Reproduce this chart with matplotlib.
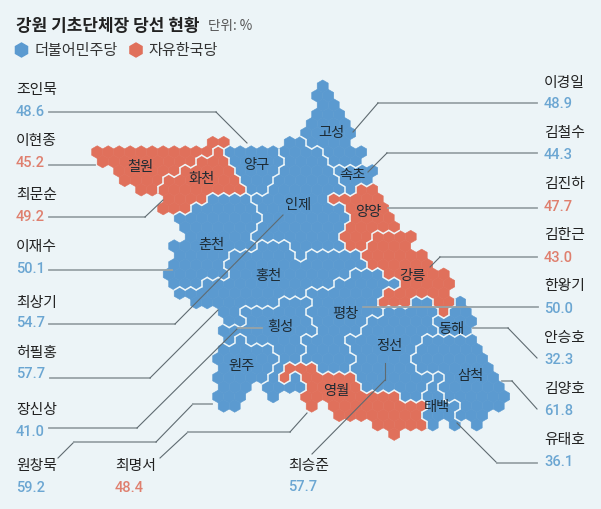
import numpy as np
import matplotlib
matplotlib.use("Agg")
import matplotlib.pyplot as plt
from matplotlib.collections import PolyCollection, LineCollection

plt.rcParams['font.family'] = ['Noto Sans CJK KR', 'DejaVu Sans']

BG = '#ecf4f7'
BLUE = '#5b9ad0'
RED = '#e0705b'
NUM_BLUE = '#6ba6d2'
NUM_RED = '#df7f6e'

#### 1. MAP DATA
# one string per hex row, runs of cells as <region><first col>-<last col>
hex_rows = [
    "G21", "G20-21", "G21-22", "G20-22", "G20-23", "G19-23",
    "C11-12 I18-19 G20-23",
    "C0-10 H11 Y12-16 I17-20 G21-24",
    "C1-9 H10-12 Y13-17 I18-21 G22-24",
    "C2-7 H8-12 Y13-16 I17-21 S22-25",
    "C3-6 H7-13 Y14-16 I17-22 S23-25",
    "C4-5 H6-13 Y14-15 I16-22 S23 A24-25",
    "H7-10 N11-14 I15-21 A22-26",
    "H6-8 N9-14 I15-22 A23-26",
    "N8-15 I16-23 A24-27",
    "N8-14 I15-22 A23-27",
    "N9-14 I15-22 A23-25 K26-29",
    "N7-14 O15-17 I18-22 A23-24 K25-28",
    "N8-12 O13-18 I19 O20-24 K25-30",
    "N7-11 O12-24 K25-30",
    "N7-12 O13-23 P24-26 K27-32",
    "N7-9 O10-21 P22-27 K28-32",
    "O8-19 P20-26 K27-32",
    "O9-16 W17-19 P20-25 K26-28 T29-30 K31-32 D33",
    "O12-13 W14-19 P20-26 T27-31 K32 D33-34",
    "O12-13 W14-19 P20-24 T25-30 D31-34",
    "W12-20 P21-24 T25-31 D32-34",
    "W12 J13 W14-18 P19-22 T23-29 M30-34",
    "J12-16 W17-19 P20-23 T24-29 M30-35",
    "J11-16 W17-18 P19-23 T24-28 M29-35",
    "J12-16 W17 E18-20 P21-23 T24-29 M30-36",
    "J11-15 W16 E17 W18 E19-23 T24-30 B31 M32-36",
    "J12-14 W16-19 E20-24 T25-30 B31 M32-37",
    "J11-13 W16 E19-27 T28-29 B30-31 M32-37",
    "J12-13 E20 E22-30 B31-33 M34-37",
    "E22-29 B30-32 M33-35",
    "E26-30 B31 B33 M35",
    "E27",
]
red_regions = "CHAKE"

region_names = ['철원', '화천', '양구', '고성', '속초', '인제', '양양', '강릉', '춘천',
                '홍천', '횡성', '원주', '평창', '영월', '정선', '동해', '삼척', '태백']
region_x = [140, 202, 256, 331, 352, 298, 368, 412, 211, 268, 280, 242, 345, 336, 389, 451, 470, 437]
region_y = [167, 179, 165, 133, 175, 205, 212, 276, 245, 276, 327, 366, 314, 391, 346, 329, 376, 407]

#### 2. WINNERS
names = ['조인묵', '이현종', '최문순', '이재수', '최상기', '허필홍', '장신상', '원창묵', '최명서', '최승준',
         '이경일', '김철수', '김진하', '김한근', '한왕기', '안승호', '김양호', '유태호']
shares = ['48.6', '45.2', '49.2', '50.1', '54.7', '57.7', '41.0', '59.2', '48.4', '57.7',
          '48.9', '44.3', '47.7', '43.0', '50.0', '32.3', '61.8', '36.1']
is_red = [0, 1, 1, 0, 0, 0, 0, 0, 1, 0, 0, 0, 1, 1, 0, 0, 0, 0]
name_x = [16] * 8 + [115, 288] + [544] * 8
name_y = [90, 141, 195, 247, 303, 353, 410, 466, 466, 466, 83, 133, 184, 235, 286, 338, 389, 440]
share_y = [112, 163, 217, 269, 323, 374, 432, 488, 488, 487, 104, 155, 207, 258, 309, 360, 411, 462]

leaders = [
    [(49, 112), (216, 112), (247, 143)],
    [(49, 165), (95, 165)],
    [(49, 217), (145, 217), (163, 200)],
    [(49, 270), (172, 270)],
    [(49, 324), (175, 324), (283, 215)],
    [(50, 378), (150, 378), (218, 310)],
    [(49, 428), (137, 428), (238, 328), (262, 328)],
    [(58, 458), (74, 442), (156, 442), (193, 404), (212, 404)],
    [(160, 458), (188, 432), (290, 432), (307, 413)],
    [(312, 454), (385, 380), (385, 363)],
    [(537, 103), (378, 103), (353, 132)],
    [(537, 153), (387, 153), (368, 172)],
    [(537, 208), (388, 208)],
    [(537, 257), (440, 257), (430, 267)],
    [(538, 307), (363, 307)],
    [(473, 328), (508, 328), (537, 358)],
    [(502, 381), (512, 381), (537, 409)],
    [(457, 423), (497, 463), (537, 463)],
]

#### 3. BUILD THE HEX GRID
DX = 11.0
DY = 9.4
RADIUS = DX / np.sqrt(3)
X0 = 91.7
Y0 = 86.3

def cell_center(row, col):
    return X0 + DX * col + DX / 2 * (row % 2), Y0 + DY * row

def hex_points(x, y, radius=RADIUS):
    angles = np.radians(np.arange(6) * 60 + 30)
    return np.column_stack([x + radius * np.cos(angles), y + radius * np.sin(angles)])

cells = {}
for row, spec in enumerate(hex_rows):
    for run in spec.split():
        region = run[0]
        parts = run[1:].split('-')
        for col in range(int(parts[0]), int(parts[-1]) + 1):
            cells[(row, col)] = region

polys = []
colors = []
for (row, col), region in cells.items():
    polys.append(hex_points(*cell_center(row, col)))
    colors.append(RED if region in red_regions else BLUE)

# white border wherever two regions touch
borders = []
for (row, col), region in cells.items():
    shift = 1 if row % 2 else 0
    for other in [(row, col + 1), (row + 1, col - 1 + shift), (row + 1, col + shift)]:
        if other in cells and cells[other] != region:
            x1, y1 = cell_center(row, col)
            x2, y2 = cell_center(*other)
            mx, my = (x1 + x2) / 2, (y1 + y2) / 2
            dx, dy = x2 - x1, y2 - y1
            length = np.hypot(dx, dy)
            half = RADIUS / 2
            borders.append([(mx - dy / length * half, my + dx / length * half),
                            (mx + dy / length * half, my - dx / length * half)])

#### 4. DRAW
fig = plt.figure(figsize=(6.01, 5.09), dpi=100, facecolor=BG)
ax = fig.add_axes([0, 0, 1, 1])
ax.set_xlim(0, 601)
ax.set_ylim(509, 0)
ax.axis('off')

ax.add_collection(PolyCollection(polys, facecolors=colors, edgecolors=colors, linewidths=0.4, zorder=1))
ax.add_collection(LineCollection(borders, colors='#eef6f8', linewidths=1.1, capstyle='round', zorder=2))

# leaders: flat parts pale and thicker, slanted parts dark and thin
for points in leaders:
    for (x1, y1), (x2, y2) in zip(points[:-1], points[1:]):
        if y1 == y2:
            ax.plot([x1, x2], [y1, y2], color='#98a3a7', lw=1.3, zorder=3)
        else:
            ax.plot([x1, x2], [y1, y2], color='#5f6b71', lw=0.8, zorder=3)

for label, x, y in zip(region_names, region_x, region_y):
    ax.text(x, y, label, fontsize=10.3, color='#1d2a33', ha='center', va='center', zorder=4)

for name, share, red, x, y1, y2 in zip(names, shares, is_red, name_x, name_y, share_y):
    ax.text(x, y1, name, fontsize=10.7, color='#222222', va='center', zorder=4)
    ax.text(x, y2, share, fontsize=10.5, family='Roboto', weight='medium',
            color=NUM_RED if red else NUM_BLUE, va='center', zorder=4)

ax.text(16, 26, '강원 기초단체장 당선 현황', fontsize=12.2, weight='bold', color='#222222', va='center')
ax.text(208, 26, '단위: %', fontsize=9.8, color='#555555', va='center')

ax.add_patch(plt.Polygon(hex_points(21.5, 50, 7), color=BLUE, zorder=3))
ax.text(34, 50, '더불어민주당', fontsize=10.9, color='#333333', va='center')
ax.add_patch(plt.Polygon(hex_points(136, 50, 7), color=RED, zorder=3))
ax.text(148, 50, '자유한국당', fontsize=10.9, color='#333333', va='center')

fig.savefig('out.png', dpi=100, facecolor=BG)
